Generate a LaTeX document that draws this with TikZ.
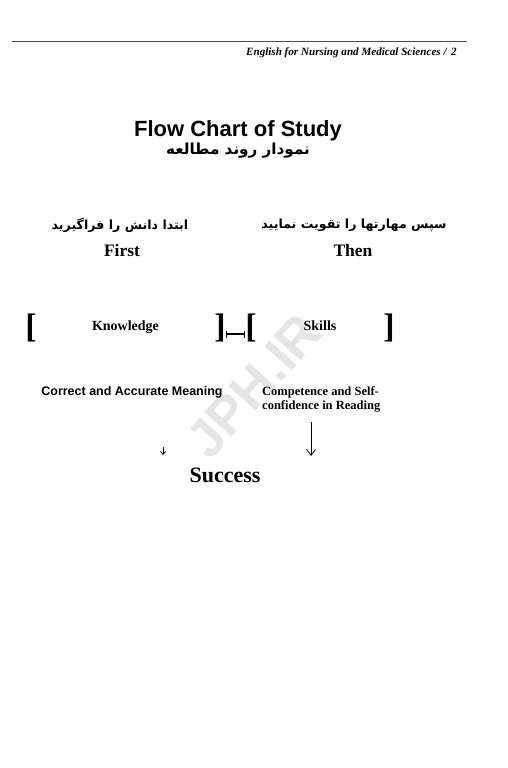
\documentclass[tikz,border=0pt]{standalone}
\usepackage{fontspec}
\setmainfont{Liberation Serif}
\setsansfont{Liberation Sans}
\newfontfamily\farsi[Script=Arabic]{DejaVu Sans}
\TeXXeTstate=1
\usetikzlibrary{arrows.meta}

\begin{document}
\begin{tikzpicture}[x=1pt,y=-1pt,
  fa/.style={font=\farsi\bfseries\fontsize{12.6}{15}\selectfont,inner sep=0pt},
  en/.style={font=\bfseries\fontsize{17.5}{20}\selectfont,inner sep=0pt},
  brk/.style={font=\bfseries\fontsize{34}{34}\selectfont,inner sep=0pt}]
\useasboundingbox (0,0) rectangle (507,768);
% watermark
\node[font=\sffamily\bfseries\fontsize{53}{53}\selectfont,text=black!10,rotate=48,inner sep=0pt] (wm) at (254,386) {JPH.IR};
% page head
\draw[black!70,line width=0.8pt] (12,41.5)--(467,41.5);
\node[font=\bfseries\itshape\fontsize{11.1}{13}\selectfont,anchor=base east,inner sep=0pt] (head) at (457,56) {English for Nursing and Medical Sciences /\, 2};
% title
\node[font=\sffamily\bfseries\fontsize{22}{24}\selectfont,anchor=base,inner sep=0pt] (title) at (238,136) {Flow Chart of Study};
\node[fa,font=\farsi\bfseries\fontsize{15.2}{18}\selectfont] (titlefa) at (238,151) {\beginR نمودار روند مطالعه\endR};
% first / then
\node[fa] (firstfa) at (120,225) {\beginR ابتدا دانش را فراگیرید\endR};
\node[fa] (thenfa) at (354,225) {\beginR سپس مهارتها را تقویت نمایید\endR};
\node[en,anchor=base] (first) at (122,256) {First};
\node[en,anchor=base] (then) at (353,256) {Then};
% knowledge and skills
\node[brk] (kl) at (31,327.5) {[};
\node[brk] (kr) at (220,327.5) {]};
\node[brk] (sl) at (251,327.5) {[};
\node[brk] (sr) at (389,327.5) {]};
\node[font=\bfseries\fontsize{14}{16}\selectfont,anchor=base,inner sep=0pt] (know) at (125.5,330) {Knowledge};
\node[font=\bfseries\fontsize{14}{16}\selectfont,anchor=base,inner sep=0pt] (skill) at (320,330) {Skills};
\draw[line width=1.2pt,{Bar[width=7pt]}-{Bar[width=7pt]}] ([yshift=-6.5pt]kr.east)--([yshift=-6.5pt]sl.west);
% results
\node[font=\sffamily\bfseries\fontsize{12.5}{14}\selectfont,anchor=base,inner sep=0pt] (mean) at (132,395) {Correct and Accurate Meaning};
\node[font=\bfseries\fontsize{12.5}{14}\selectfont,align=left,anchor=north west,inner sep=0pt] (comp) at (262,386) {Competence and Self-\\confidence in Reading};
\coordinate (m1) at (163,447);
\coordinate (m2) at (163,455);
\coordinate (c1) at (311,422);
\coordinate (c2) at (311,456);
\draw[line width=0.8pt,-{Straight Barb[length=3pt,width=5pt]}] (m1)--(m2);
\draw[line width=0.8pt,-{Straight Barb[length=6pt,width=9pt]}] (c1)--(c2);
\node[font=\bfseries\fontsize{22}{24}\selectfont,anchor=base,inner sep=0pt] (succ) at (225,482) {Success};
\end{tikzpicture}
\end{document}
